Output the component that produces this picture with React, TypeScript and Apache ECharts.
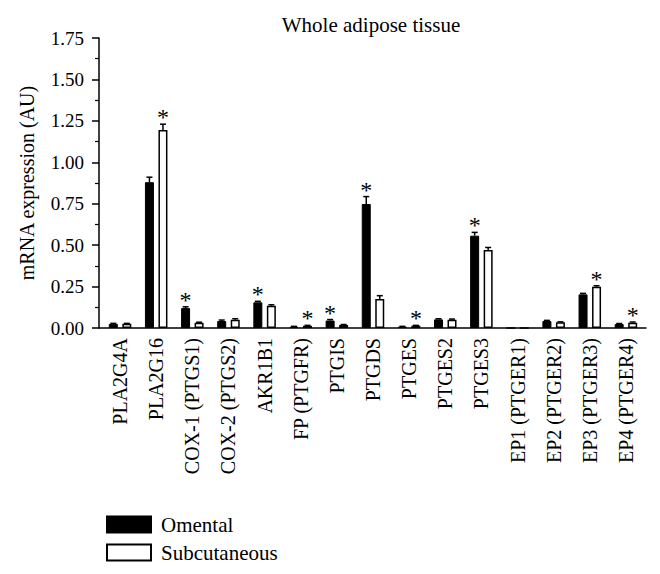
import React, { useEffect, useRef } from "react";
import * as echarts from "echarts";

const categories = [
  "PLA2G4A", "PLA2G16", "COX-1 (PTGS1)", "COX-2 (PTGS2)", "AKR1B1", "FP (PTGFR)", "PTGIS",
  "PTGDS", "PTGES", "PTGES2", "PTGES3", "EP1 (PTGER1)", "EP2 (PTGER2)", "EP3 (PTGER3)", "EP4 (PTGER4)",
];
const omental = [0.025, 0.88, 0.12, 0.042, 0.155, 0.008, 0.045, 0.748, 0.008, 0.052, 0.557, 0, 0.042, 0.203, 0.024];
const omentalErr = [0.003, 0.03, 0.008, 0.006, 0.006, 0.002, 0.006, 0.045, 0.002, 0.004, 0.02, 0, 0.004, 0.006, 0.003];
const omentalStar = [0, 0, 1, 0, 1, 0, 1, 1, 0, 0, 1, 0, 0, 0, 0];
const subcutaneous = [0.025, 1.195, 0.032, 0.05, 0.135, 0.013, 0.018, 0.175, 0.014, 0.05, 0.47, 0, 0.034, 0.249, 0.032];
const subcutaneousErr = [0.003, 0.035, 0.003, 0.006, 0.005, 0.003, 0.003, 0.02, 0.002, 0.004, 0.016, 0, 0.003, 0.006, 0.004];
const subcutaneousStar = [0, 1, 0, 0, 0, 1, 0, 0, 1, 0, 0, 0, 0, 1, 1];
const yTicks = { min: 0, max: 1.75, interval: 0.25 };

const FONT = "'Liberation Serif', 'DejaVu Serif', serif";
const BAR_W = 9;
const OFFSET = 6.75;

function errSeries(name: string, vals: number[], errs: number[], stars: number[], offset: number) {
  return {
    type: "custom",
    name: name + "-err",
    xAxisIndex: 0,
    yAxisIndex: 0,
    silent: true,
    z: 5,
    data: vals.map((v, i) => [i, v, errs[i], stars[i]]),
    encode: { x: 0, y: 1 },
    renderItem: (params: any, api: any) => {
      const i = api.value(0);
      const v = api.value(1);
      const e = api.value(2);
      const s = api.value(3);
      const base = api.coord([i, v]);
      const top = api.coord([i, v + e]);
      const x = base[0] + offset;
      const children: any[] = [];
      if (e > 0) {
        children.push({
          type: "line",
          shape: { x1: x, y1: base[1], x2: x, y2: top[1] },
          style: { stroke: "#000", lineWidth: 1.5 },
        });
        children.push({
          type: "line",
          shape: { x1: x - 3, y1: top[1], x2: x + 3, y2: top[1] },
          style: { stroke: "#000", lineWidth: 1.5 },
        });
      }
      if (s) {
        children.push({
          type: "text",
          style: {
            text: "*",
            x,
            y: top[1] + 5,
            textAlign: "center",
            textVerticalAlign: "bottom",
            fontSize: 24,
            fontFamily: FONT,
            fill: "#000",
          },
        });
      }
      return { type: "group", children };
    },
  };
}

export default function App() {
  const ref = useRef<HTMLDivElement>(null);
  useEffect(() => {
    if (!ref.current) return;
    const chart = echarts.init(ref.current, null, { renderer: "svg" });
    chart.setOption({
      animation: false,
      backgroundColor: "#fff",
      title: {
        text: "Whole adipose tissue",
        left: 366,
        top: 9,
        textAlign: "center",
        textStyle: { fontFamily: FONT, fontSize: 21, fontWeight: "normal", color: "#000" },
      },
      legend: {
        data: ["Omental", "Subcutaneous"],
        orient: "vertical",
        left: 101,
        top: 509,
        itemWidth: 44,
        itemHeight: 16,
        itemGap: 7,
        icon: "rect",
        textStyle: { fontFamily: FONT, fontSize: 21, color: "#000", padding: [0, 0, 0, 5] },
      },
      grid: [
        { left: 102, right: 16, top: 38, bottom: 246 },
        { left: 99, right: 14, top: 38, bottom: 246 },
      ],
      xAxis: [
        {
          type: "category",
          gridIndex: 0,
          data: categories,
          axisLine: { show: false },
          axisTick: { show: false },
          axisLabel: { rotate: 90, margin: 10, fontFamily: FONT, fontSize: 20, color: "#000", interval: 0 },
        },
        {
          type: "value",
          gridIndex: 1,
          min: 0,
          max: 1,
          axisLine: { show: true, lineStyle: { color: "#000", width: 1.5 } },
          axisTick: { show: false },
          axisLabel: { show: false },
          splitLine: { show: false },
        },
      ],
      yAxis: [
        {
          type: "value",
          gridIndex: 0,
          min: yTicks.min,
          max: yTicks.max,
          interval: yTicks.interval,
          offset: 3,
          name: "mRNA expression (AU)",
          nameLocation: "middle",
          nameRotate: 90,
          nameGap: 62,
          nameTextStyle: { fontFamily: FONT, fontSize: 20, color: "#000" },
          axisLine: { show: true, lineStyle: { color: "#000", width: 1.5 } },
          axisTick: { show: true, length: 7, lineStyle: { color: "#000", width: 1.5 } },
          minorTick: { show: true, splitNumber: 2, length: 4, lineStyle: { color: "#000", width: 1.2 } },
          axisLabel: {
            fontFamily: FONT,
            fontSize: 19,
            color: "#000",
            margin: 15,
            formatter: (v: number) => v.toFixed(2),
          },
          splitLine: { show: false },
        },
        {
          type: "value",
          gridIndex: 1,
          min: 0,
          max: 1,
          show: false,
        },
      ],
      series: [
        {
          type: "bar",
          name: "Omental",
          data: omental,
          barWidth: BAR_W,
          barGap: "50%",
          itemStyle: { color: "#000", borderColor: "#000", borderWidth: 1 },
        },
        {
          type: "bar",
          name: "Subcutaneous",
          data: subcutaneous,
          barWidth: BAR_W,
          barGap: "50%",
          itemStyle: { color: "#fff", borderColor: "#000", borderWidth: 1.5 },
        },
        errSeries("Omental", omental, omentalErr, omentalStar, -OFFSET),
        errSeries("Subcutaneous", subcutaneous, subcutaneousErr, subcutaneousStar, OFFSET),
      ],
    });
    return () => chart.dispose();
  }, []);
  return (
    <div
      ref={ref}
      style={{ position: "fixed", left: 0, top: 0, width: 660, height: 574 }}
    />
  );
}
